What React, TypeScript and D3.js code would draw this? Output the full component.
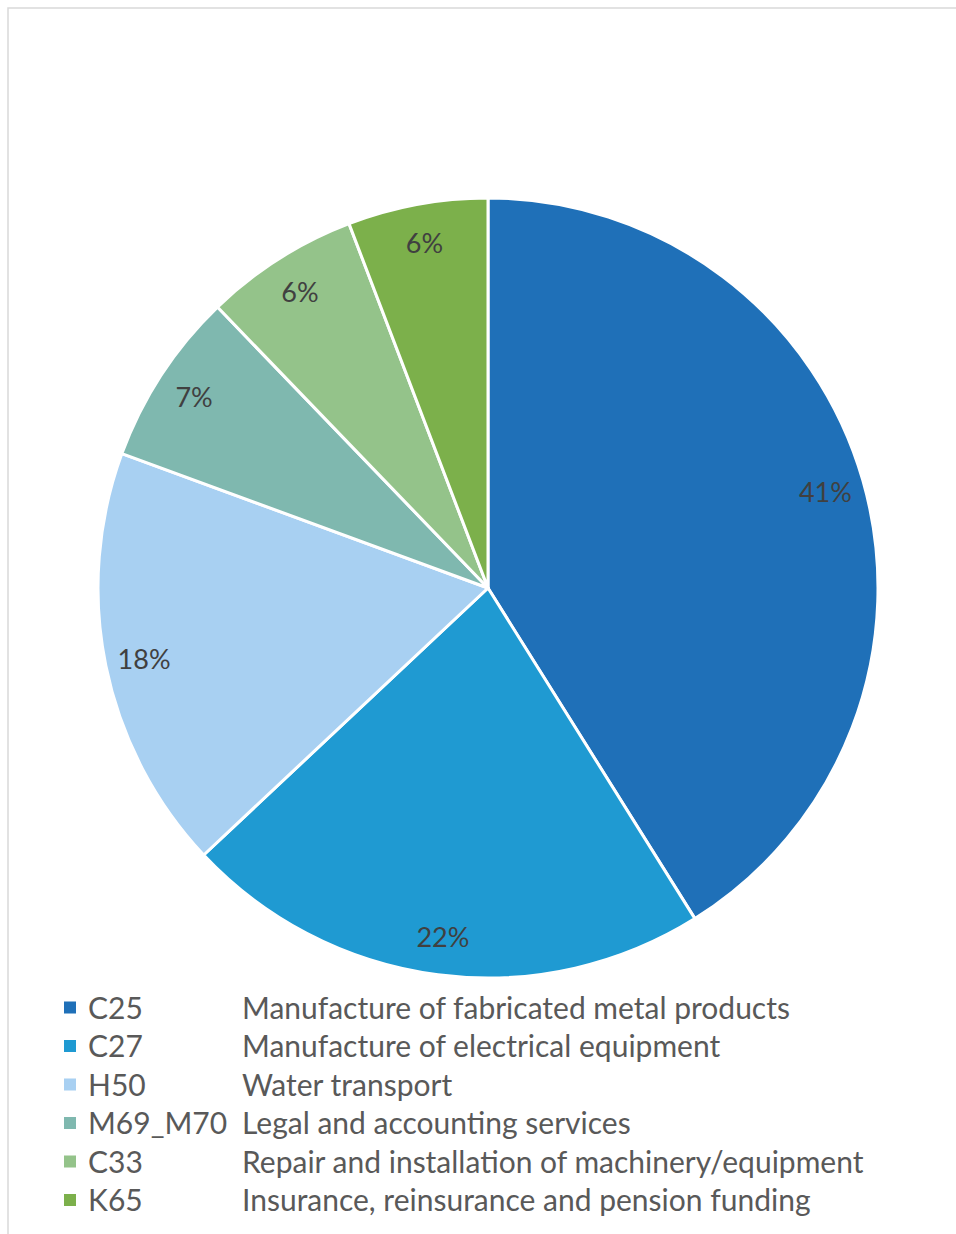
import React from "react";
import * as d3 from "d3";

const codes = ["C25", "C27", "H50", "M69_M70", "C33", "K65"];
const descriptions = [
  "Manufacture of fabricated metal products",
  "Manufacture of electrical equipment",
  "Water transport",
  "Legal and accounting services",
  "Repair and installation of machinery/equipment",
  "Insurance, reinsurance and pension funding",
];
const shares = [41.1, 21.9, 17.6, 7.2, 6.4, 5.8];
const colors = ["#1F70B8", "#1F9AD2", "#A8D0F2", "#7FB8AF", "#94C38A", "#7CB04B"];

export default function App() {
  const W = 956, H = 1234;
  const cx = 488, cy = 588, r = 390;
  const total = d3.sum(shares);
  const pie = d3.pie<number>().sort(null).value((d) => d)(shares);
  const arc = d3.arc<d3.PieArcDatum<number>>().innerRadius(0).outerRadius(r);
  const labelArc = d3.arc<d3.PieArcDatum<number>>().innerRadius(r * 0.9).outerRadius(r * 0.9);
  const legendY = d3.scaleLinear().domain([0, 1]).range([1006.5, 1045]);
  const font = "Lato, 'Open Sans', sans-serif";
  return (
    <svg width={W} height={H} style={{ position: "absolute", left: 0, top: 0 }}>
      <rect x={0} y={0} width={W} height={H} fill="#fff" />
      <rect x={8} y={8} width={980} height={1260} fill="#fff" stroke="#d9d9d9" strokeWidth={1.5} />
      <g transform={`translate(${cx},${cy})`}>
        {pie.map((p, i) => (
          <path key={i} d={arc(p) || ""} fill={colors[i]} stroke="#fff" strokeWidth={3} strokeLinejoin="round" />
        ))}
        {pie.map((p, i) => {
          const [x, y] = labelArc.centroid(p);
          return (
            <text key={i} x={x} y={y} textAnchor="middle" dominantBaseline="central" fontFamily={font} fontSize={27} fill="#404040">
              {Math.round((p.value / total) * 100)}%
            </text>
          );
        })}
      </g>
      {codes.map((c, i) => (
        <g key={c}>
          <rect x={64} y={legendY(i) - 5} width={12} height={12} fill={colors[i]} />
          <text x={88} y={legendY(i)} dominantBaseline="central" fontFamily={font} fontSize={30} fill="#595959">{c}</text>
          <text x={242} y={legendY(i)} dominantBaseline="central" fontFamily={font} fontSize={30} fill="#595959">{descriptions[i]}</text>
        </g>
      ))}
    </svg>
  );
}
